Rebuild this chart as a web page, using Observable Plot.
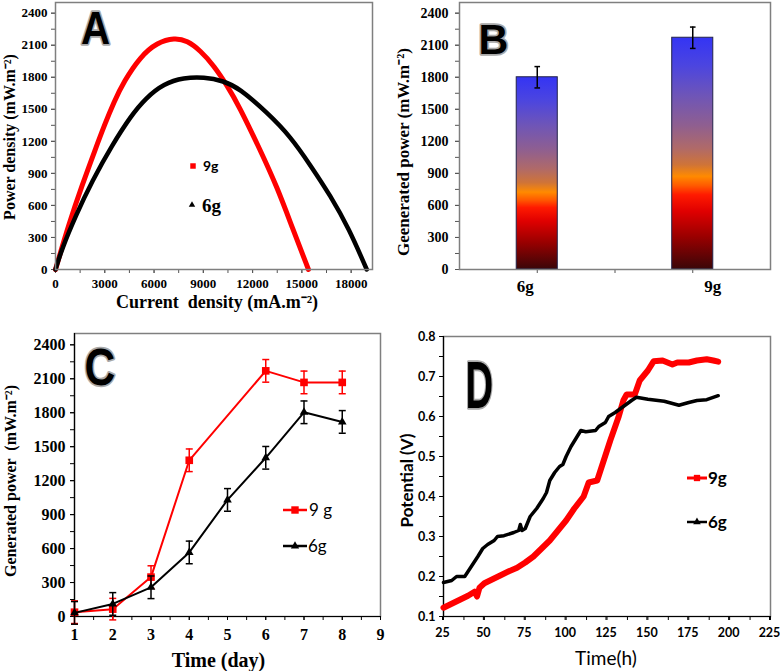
<!DOCTYPE html>
<html><head><meta charset="utf-8">
<script src="https://cdn.jsdelivr.net/npm/d3@7"></script>
<script src="https://cdn.jsdelivr.net/npm/@observablehq/plot@0.6"></script>
<style>
body{margin:0;background:#fff}
#fig{position:relative;width:780px;height:671px;background:#fff;overflow:hidden}
.panel{position:absolute}
.panel svg{max-width:none!important;background:transparent!important}
</style></head><body><div id="fig"></div>
<script>
// ---------------- DATA ----------------
// Panel A: power density vs current density
const currentA9 = [0, 800, 1620, 2435, 3000, 3552, 4160, 5175, 6190, 7250, 8016, 8828, 9640, 10453, 11163, 12481, 13496, 14409, 15400];
const powerA9   = [0, 420, 790, 1130, 1360, 1566, 1760, 1995, 2125, 2170, 2143, 2049, 1909, 1722, 1534, 1113, 770, 396, 0];
const currentA6 = [0, 406, 1218, 2233, 3450, 4600, 5500, 6595, 7812, 9029, 10247, 11163, 12888, 14308, 15525, 16743, 17859, 18950];
const powerA6   = [0, 200, 500, 830, 1165, 1440, 1605, 1740, 1796, 1802, 1765, 1700, 1470, 1245, 975, 690, 385, 0];
// Panel B: generated power per loading
const groupsB = ["6g", "9g"];
const powerB = [1800, 2170];
const errorB = [100, 100];
// Panel C: generated power vs time (day)
const daysC9 = [1, 2, 3, 4, 6, 7, 8];
const powerC9 = [38, 65, 348, 1380, 2170, 2068, 2068];
const errorC9 = [100, 95, 100, 100, 100, 100, 100];
const daysC6 = [1, 2, 3, 4, 5, 6, 7, 8];
const powerC6 = [32, 111, 258, 566, 1030, 1402, 1804, 1719];
const errorC6 = [100, 100, 100, 100, 100, 100, 100, 100];
// Panel D: potential vs time (h)
const timeD9 = [25, 30, 35, 40, 44, 45.5, 47, 50, 55, 60, 65, 70, 75, 80, 85, 90, 95, 100, 105, 110.7, 113.8, 119, 123, 127, 132, 135, 137, 142, 145, 150, 153.5, 159, 162, 165, 168, 175, 180, 186, 190, 193];
const potentialD9 = [0.122, 0.132, 0.142, 0.152, 0.162, 0.15, 0.172, 0.183, 0.193, 0.203, 0.213, 0.222, 0.235, 0.25, 0.27, 0.29, 0.315, 0.34, 0.37, 0.4, 0.435, 0.44, 0.49, 0.54, 0.598, 0.64, 0.655, 0.655, 0.69, 0.715, 0.738, 0.74, 0.735, 0.73, 0.735, 0.735, 0.74, 0.743, 0.74, 0.737];
const timeD6 = [25, 30, 33, 38, 42, 46, 49, 52, 56, 58, 62, 68, 71, 72, 73, 75, 78, 82, 86, 88, 90, 93, 96, 98, 100, 103, 106, 109, 112, 118, 120, 124, 126, 130, 135, 140, 143, 150, 160, 169, 175, 180, 186, 193];
const potentialD6 = [0.185, 0.19, 0.2, 0.2, 0.225, 0.25, 0.27, 0.28, 0.29, 0.3, 0.302, 0.31, 0.315, 0.33, 0.315, 0.32, 0.35, 0.37, 0.395, 0.41, 0.44, 0.46, 0.475, 0.48, 0.5, 0.525, 0.545, 0.565, 0.562, 0.565, 0.575, 0.585, 0.6, 0.61, 0.625, 0.64, 0.648, 0.643, 0.638, 0.628, 0.635, 0.64, 0.642, 0.652];
// Tick values
const ticksPower = [0, 300, 600, 900, 1200, 1500, 1800, 2100, 2400];
const minorPower = d3.range(0, 2401, 150);
const ticksCurrent = [0, 3000, 6000, 9000, 12000, 15000, 18000];
const minorCurrent = d3.range(0, 19300, 1500);
const ticksDay = [1, 2, 3, 4, 5, 6, 7, 8, 9];
const minorDay = d3.range(1, 9.01, 0.5);
const ticksHour = [25, 50, 75, 100, 125, 150, 175, 200, 225];
const minorHour = d3.range(25, 225.1, 12.5);
const ticksPotential = [0.1, 0.2, 0.3, 0.4, 0.5, 0.6, 0.7, 0.8];
const minorPotential = d3.range(0.1, 0.801, 0.05);

// ---------------- HELPERS ----------------
const serif = "'Liberation Serif','Times New Roman',serif";
const sans = "'Liberation Sans',Arial,sans-serif";
const lato = "Lato,'Open Sans',sans-serif";
const fig = document.getElementById("fig");
function place(svg, left, top, w, h) {
  const d = document.createElement("div");
  d.className = "panel";
  Object.assign(d.style, {left: left + "px", top: top + "px", width: w + "px", height: h + "px"});
  d.appendChild(svg); fig.appendChild(d); return svg;
}
const capSymbol = {draw(ctx, size) { const w = Math.sqrt(size / Math.PI); ctx.moveTo(-w, 0); ctx.lineTo(w, 0); }};
const blank = () => "";
const plain = d => String(d);
function letter(svg, ch, x, y, size, sx) {
  d3.select(svg).append("text")
    .attr("transform", `translate(${x},${y}) scale(${sx},1)`)
    .attr("text-anchor", "start")
    .attr("font-family", sans).attr("font-weight", "bold").attr("font-size", size)
    .attr("fill", "#000").attr("stroke", "#a9a9a9").attr("stroke-width", 3.5)
    .attr("stroke-linejoin", "round").attr("paint-order", "stroke").text(ch);
}
function legend(svg, items) {
  const g = d3.select(svg).append("g");
  for (const it of items) {
    if (it.line) g.append("line").attr("x1", it.line[0]).attr("x2", it.line[1])
      .attr("y1", it.y).attr("y2", it.y).attr("stroke", it.color).attr("stroke-width", it.lw);
    g.append("path").attr("d", d3.symbol(it.symbol === "square" ? d3.symbolSquare : d3.symbolTriangle, it.size)())
      .attr("transform", `translate(${it.sx},${it.y})`).attr("fill", it.color);
    g.append("text").attr("x", it.tx).attr("y", it.y).attr("dy", "0.35em").attr("text-anchor", "start")
      .attr("font-family", it.font).attr("font-size", it.fs).attr("font-weight", it.fw)
      .attr("fill", "#000").text(it.label);
  }
}
const lbl = (s, o) => Plot.text([s], {text: d => d, textAnchor: "middle", lineAnchor: "middle", ...o});

// ---------------- PANEL A ----------------
const dataA9 = currentA9.map((x, i) => ({x, y: powerA9[i]}));
const dataA6 = currentA6.map((x, i) => ({x, y: powerA6[i]}));
const svgA = Plot.plot({
  width: 390, height: 318, marginLeft: 55, marginRight: 18, marginTop: 2, marginBottom: 49,
  style: {fontFamily: serif, fontWeight: "bold", fontSize: "13px", color: "#000", background: "transparent"},
  x: {domain: [0, 19300], label: null}, y: {domain: [0, 2500], label: null},
  marks: [
    Plot.axisY({ticks: minorPower, tickSize: 4, tickFormat: blank, stroke: "#555"}),
    Plot.axisY({ticks: ticksPower, tickSize: 4, tickPadding: 4, tickFormat: plain, stroke: "#555"}),
    Plot.axisX({ticks: minorCurrent, tickSize: 4, tickFormat: blank, stroke: "#555"}),
    Plot.axisX({ticks: ticksCurrent, tickSize: 4, tickPadding: 5, tickFormat: plain, stroke: "#555"}),
    Plot.line(dataA9, {x: "x", y: "y", stroke: "#ff0000", strokeWidth: 5, curve: "basis"}),
    Plot.line(dataA6, {x: "x", y: "y", stroke: "#000", strokeWidth: 4.5, curve: "basis"}),
    Plot.frame({stroke: "#7f7f7f", strokeWidth: 1.5}),
    lbl("Power density (mW.m⁻²)", {frameAnchor: "left", rotate: -90, dx: -46, dy: 1, fontSize: 16, fontFamily: serif, fontWeight: "bold"}),
    lbl("Current  density (mA.m⁻²)", {frameAnchor: "bottom", dy: 33, dx: 3, fontSize: 18, fontFamily: serif, fontWeight: "bold"})
  ]
});
place(svgA, 0, 0, 390, 318);
letter(svgA, "A", 81, 43.5, 47, 0.86);
legend(svgA, [
  {y: 166, color: "#ff0000", symbol: "square", size: 30, sx: 193, tx: 203, label: "9g", font: lato, fs: 14, fw: "bold"},
  {y: 205, color: "#000", symbol: "triangle", size: 18, sx: 192, tx: 202, label: "6g", font: serif, fs: 19, fw: "bold"}
]);

// ---------------- PANEL B ----------------
const dataB = groupsB.map((g, i) => ({g, i, v: powerB[i], e: errorB[i]}));
const svgB = Plot.plot({
  width: 390, height: 318, marginLeft: 69, marginRight: 10, marginTop: 2, marginBottom: 49,
  style: {fontFamily: serif, fontWeight: "bold", fontSize: "14px", color: "#000", background: "transparent"},
  x: {domain: [0, 2], label: null}, y: {domain: [0, 2500], label: null},
  marks: [
    Plot.axisY({ticks: minorPower, tickSize: 4, tickFormat: blank, stroke: "#555"}),
    Plot.axisY({ticks: ticksPower, tickSize: 4, tickPadding: 7, tickFormat: plain, stroke: "#555"}),
    Plot.axisX({ticks: [0.5, 1, 1.5], tickSize: 4, tickFormat: blank, stroke: "#555"}),
    Plot.rect(dataB, {x1: d => d.i + 0.5 - 0.132, x2: d => d.i + 0.5 + 0.132, y1: d => 0, y2: d => d.v,
      fill: "url(#barGrad)", stroke: "#23234a", strokeWidth: 1}),
    Plot.ruleX(dataB, {x: d => d.i + 0.5, y1: d => d.v - d.e, y2: d => d.v + d.e, stroke: "#000", strokeWidth: 1.5}),
    Plot.dot(dataB, {x: d => d.i + 0.5, y: d => d.v + d.e, symbol: capSymbol, r: 2.8, stroke: "#000", strokeWidth: 1.5}),
    Plot.dot(dataB, {x: d => d.i + 0.5, y: d => d.v - d.e, symbol: capSymbol, r: 2.8, stroke: "#000", strokeWidth: 1.5}),
    Plot.frame({stroke: "#7f7f7f", strokeWidth: 1.5}),
    Plot.text(dataB, {filter: d => d.i === 0, x: d => d.i + 0.5, text: "g", frameAnchor: "bottom", lineAnchor: "middle", dy: 17, dx: -12, fontSize: 17, fontFamily: serif, fontWeight: "bold"}),
    Plot.text(dataB, {filter: d => d.i === 1, x: d => d.i + 0.5, text: "g", frameAnchor: "bottom", lineAnchor: "middle", dy: 17, dx: 20, fontSize: 17, fontFamily: serif, fontWeight: "bold"}),
    lbl("Geenerated power (mW.m⁻²)", {frameAnchor: "left", rotate: -90, dx: -56, dy: 16, fontSize: 17, fontFamily: serif, fontWeight: "bold"})
  ]
});
place(svgB, 390, 0, 390, 318);
{
  const grad = d3.select(svgB).insert("defs", ":first-child").append("linearGradient")
    .attr("id", "barGrad").attr("x1", 0).attr("y1", 0).attr("x2", 0).attr("y2", 1);
  [[0, "#3434f4"], [0.12, "#4b45e0"], [0.25, "#6e55b8"], [0.38, "#8f5f90"], [0.48, "#b06a68"],
   [0.55, "#cf7438"], [0.6, "#ff8a00"], [0.64, "#ff5a00"], [0.68, "#ff1a00"], [0.75, "#e00000"],
   [0.86, "#9a0000"], [1, "#3a0608"]].forEach(([o, c]) => grad.append("stop").attr("offset", o).attr("stop-color", c));
}
letter(svgB, "B", 88.5, 53.5, 43, 0.96);

// ---------------- PANEL C ----------------
const dataC9 = daysC9.map((d, i) => ({d, v: powerC9[i], e: errorC9[i]}));
const dataC6 = daysC6.map((d, i) => ({d, v: powerC6[i], e: errorC6[i]}));
const errMarks = (data, color) => [
  Plot.ruleX(data, {x: "d", y1: d => d.v - d.e, y2: d => d.v + d.e, stroke: color, strokeWidth: 1.5}),
  Plot.dot(data, {x: "d", y: d => d.v + d.e, symbol: capSymbol, r: 3.5, stroke: color, strokeWidth: 1.5}),
  Plot.dot(data, {x: "d", y: d => d.v - d.e, symbol: capSymbol, r: 3.5, stroke: color, strokeWidth: 1.5})
];
const svgC = Plot.plot({
  width: 390, height: 351, marginLeft: 74, marginRight: 10, marginTop: 13, marginBottom: 55,
  style: {fontFamily: serif, fontWeight: "bold", fontSize: "16px", color: "#000", background: "transparent"},
  x: {domain: [1, 9], label: null}, y: {domain: [0, 2500], label: null},
  marks: [
    Plot.frame({stroke: "#7f7f7f", strokeWidth: 1.5}),
    Plot.ruleX([1], {stroke: "#000", strokeWidth: 1.2}),
    Plot.ruleY([0], {stroke: "#000", strokeWidth: 1.2}),
    Plot.axisY({ticks: minorPower, tickSize: 4, tickFormat: blank}),
    Plot.axisY({ticks: ticksPower, tickSize: 4, tickPadding: 5, tickFormat: plain}),
    Plot.axisX({ticks: minorDay, tickSize: 4, tickFormat: blank}),
    Plot.axisX({ticks: ticksDay, tickSize: 4, tickPadding: 8, tickFormat: plain}),
    ...errMarks(dataC9, "#ff0000"),
    Plot.line(dataC9, {x: "d", y: "v", stroke: "#ff0000", strokeWidth: 2}),
    Plot.dot(dataC9, {x: "d", y: "v", symbol: "square", r: 4.3, fill: "#ff0000"}),
    ...errMarks(dataC6, "#000"),
    Plot.line(dataC6, {x: "d", y: "v", stroke: "#000", strokeWidth: 2}),
    Plot.dot(dataC6, {x: "d", y: "v", symbol: "triangle", r: 3.2, fill: "#000"}),
    lbl("Generated power  (mW.m⁻²)", {frameAnchor: "left", rotate: -90, dx: -64, dy: 6, fontSize: 16, fontFamily: serif, fontWeight: "bold"}),
    lbl("Time (day)", {frameAnchor: "bottom", dy: 44, dx: -9, fontSize: 20, fontFamily: serif, fontWeight: "bold"})
  ]
});
place(svgC, 0, 320, 390, 351);
letter(svgC, "C", 84.5, 64.5, 52, 0.82);
legend(svgC, [
  {y: 190, line: [283, 307], lw: 2.5, color: "#ff0000", symbol: "square", size: 55, sx: 295, tx: 309, label: "9 g", font: lato, fs: 17, fw: "normal"},
  {y: 226, line: [283, 307], lw: 2.5, color: "#000", symbol: "triangle", size: 30, sx: 295, tx: 308, label: "6g", font: lato, fs: 17, fw: "normal"}
]);

// ---------------- PANEL D ----------------
const dataD9 = timeD9.map((t, i) => ({t, p: potentialD9[i]}));
const dataD6 = timeD6.map((t, i) => ({t, p: potentialD6[i]}));
const svgD = Plot.plot({
  width: 390, height: 351, marginLeft: 53, marginRight: 10, marginTop: 16, marginBottom: 55,
  style: {fontFamily: lato, fontWeight: "bold", fontSize: "12.5px", color: "#000", background: "transparent"},
  x: {domain: [25, 225], label: null}, y: {domain: [0.1, 0.8], label: null},
  marks: [
    Plot.frame({stroke: "#7f7f7f", strokeWidth: 1.5}),
    Plot.ruleX([25], {stroke: "#000", strokeWidth: 1.2}),
    Plot.ruleY([0.1], {stroke: "#000", strokeWidth: 1.2}),
    Plot.axisY({ticks: minorPotential, tickSize: 4, tickFormat: blank}),
    Plot.axisY({ticks: ticksPotential, tickSize: 4, tickPadding: 4, tickFormat: d3.format(".1f")}),
    Plot.axisX({ticks: minorHour, tickSize: 4, tickFormat: blank}),
    Plot.axisX({ticks: ticksHour, tickSize: 4, tickPadding: 8, tickFormat: plain, dx: -1}),
    Plot.line(dataD9, {x: "t", y: "p", stroke: "#ff0000", strokeWidth: 6}),
    Plot.line(dataD6, {x: "t", y: "p", stroke: "#000", strokeWidth: 3.5}),
    lbl("Potential (V)", {frameAnchor: "left", rotate: -90, dx: -36, dy: 4, fontSize: 17, fontFamily: lato, fontWeight: "bold"}),
    lbl("Time(h)", {frameAnchor: "bottom", dy: 42, dx: -1, fontSize: 19, fontFamily: lato, fontWeight: "normal"})
  ]
});
place(svgD, 390, 320, 390, 351);
letter(svgD, "D", 75.5, 87.5, 66, 0.58);
legend(svgD, [
  {y: 158, line: [297, 317], lw: 3, color: "#ff0000", symbol: "square", size: 40, sx: 307, tx: 318, label: "9g", font: lato, fs: 17, fw: "bold"},
  {y: 202, line: [297, 317], lw: 2.5, color: "#000", symbol: "triangle", size: 25, sx: 307, tx: 318, label: "6g", font: lato, fs: 17, fw: "bold"}
]);
</script></body></html>
